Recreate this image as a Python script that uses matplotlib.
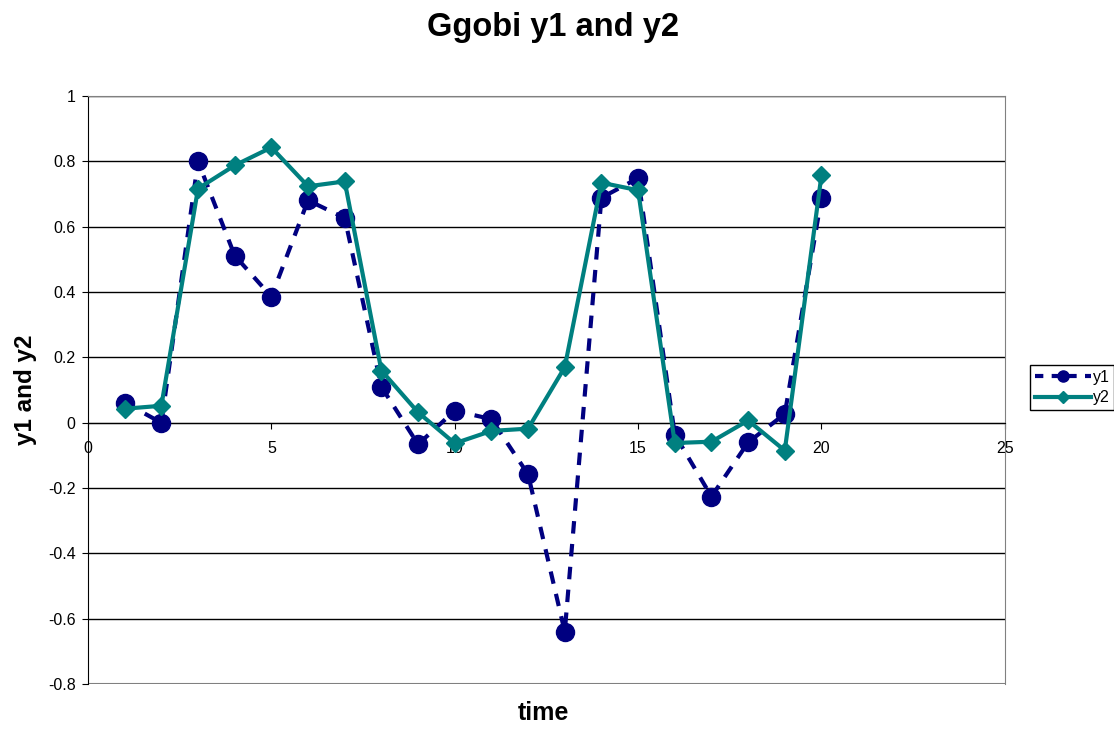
import matplotlib.pyplot as plt
from matplotlib.ticker import FuncFormatter
from matplotlib.lines import Line2D

plt.rcParams['font.family'] = ['Liberation Sans', 'DejaVu Sans']

time = list(range(1, 21))
y1 = [0.062, 0.0, 0.80, 0.512, 0.386, 0.681, 0.627, 0.110, -0.066, 0.037,
      0.011, -0.158, -0.640, 0.689, 0.749, -0.036, -0.226, -0.060, 0.027, 0.688]
y2 = [0.043, 0.052, 0.717, 0.788, 0.843, 0.724, 0.739, 0.160, 0.032, -0.063,
      -0.025, -0.018, 0.170, 0.735, 0.712, -0.062, -0.058, 0.007, -0.085, 0.758]

fig = plt.figure(figsize=(11.14, 7.33), dpi=100)
ax = fig.add_axes([0.079, 0.0668, 0.823, 0.802])

ax.plot(time, y1, color='#000080', linestyle=(0, (3, 2.5)), linewidth=3,
        marker='o', markersize=13, label='y1', zorder=3)
ax.plot(time, y2, color='#008080', linestyle='-', linewidth=3,
        marker='D', markersize=9, label='y2', zorder=4)

ax.set_xlim(0, 25)
ax.set_ylim(-0.8, 1)
ax.set_xticks([0, 5, 10, 15, 20, 25])
ax.set_yticks([-0.8, -0.6, -0.4, -0.2, 0, 0.2, 0.4, 0.6, 0.8, 1])
ax.yaxis.set_major_formatter(FuncFormatter(lambda v, p: '%g' % round(v, 1)))
ax.grid(axis='y', color='black', linewidth=1)
ax.set_axisbelow(True)

ax.spines['bottom'].set_position(('data', 0))
ax.spines['bottom'].set_color('black')
ax.spines['left'].set_color('black')
ax.spines['top'].set_color('#808080')
ax.spines['right'].set_color('#808080')
ax.axhline(-0.8, color='#808080', linewidth=1.5, zorder=1)
ax.tick_params(axis='both', direction='out', length=4, labelsize=11.5)
ax.tick_params(axis='x', pad=9)
ax.tick_params(axis='y', pad=5)

fig.text(0.496, 0.963, 'Ggobi y1 and y2', fontsize=23.5, fontweight='bold',
         ha='center', va='center')
ax.set_ylabel('y1 and y2', fontsize=17.5, fontweight='bold', labelpad=8)
fig.text(0.488, 0.018, 'time', fontsize=18, fontweight='bold', ha='center')

handles = [
    Line2D([], [], color='#000080', linestyle=(0, (2, 2)), linewidth=3,
           marker='o', markersize=8),
    Line2D([], [], color='#008080', linewidth=3, marker='D', markersize=6),
]
fig.legend(handles, ['y1', 'y2'], loc='upper left',
           bbox_to_anchor=(0.925, 0.502), fontsize=11.5, frameon=True,
           fancybox=False, edgecolor='black', framealpha=1,
           handlelength=3.5, handletextpad=0.1, borderpad=0.3,
           labelspacing=0.35, borderaxespad=0)

fig.savefig('out.png', dpi=100)
